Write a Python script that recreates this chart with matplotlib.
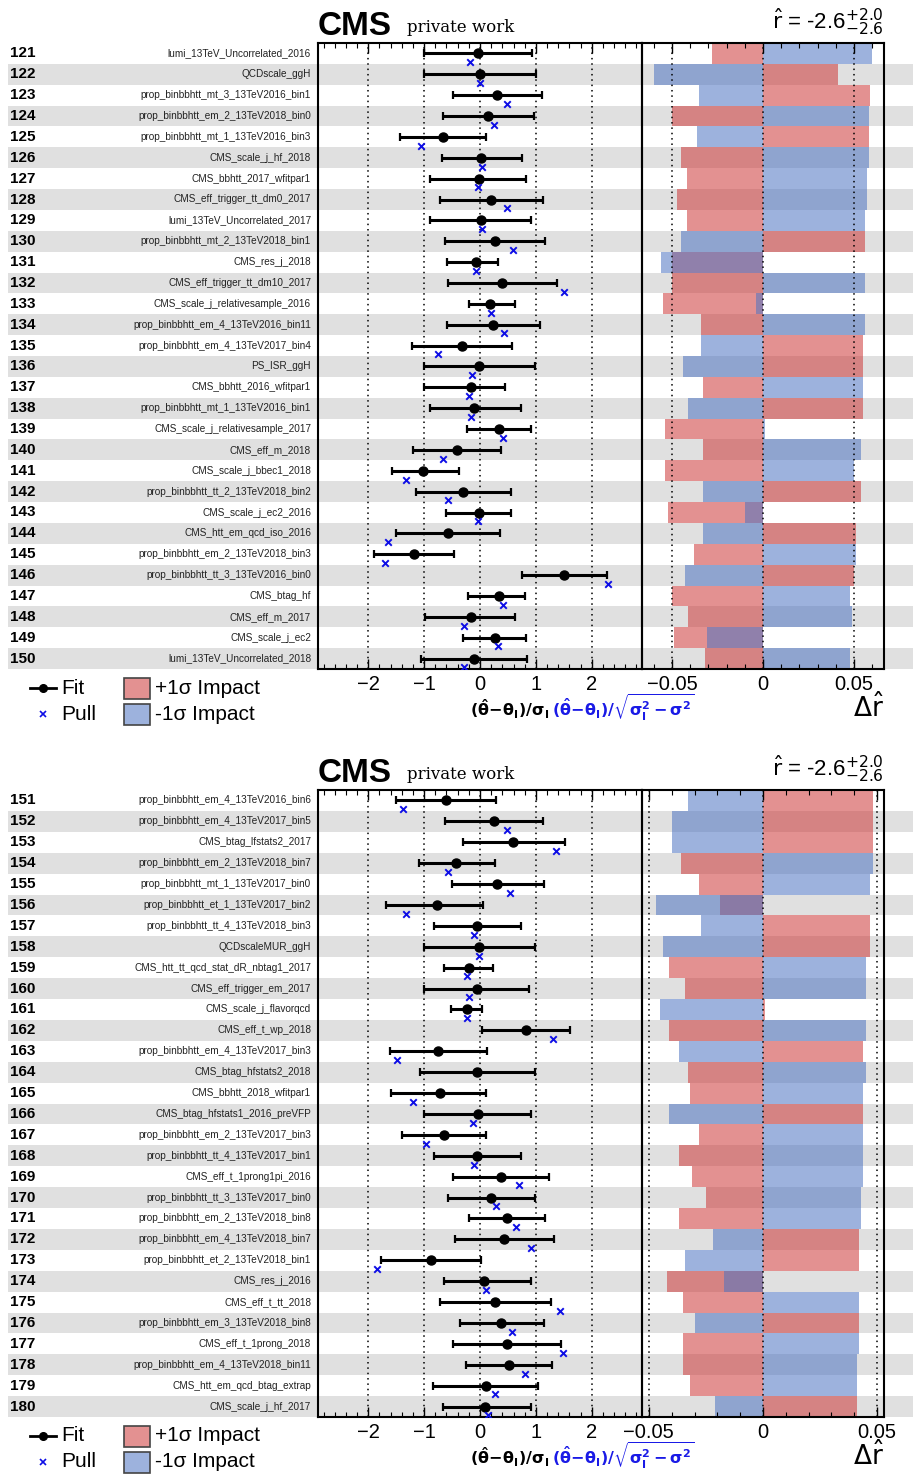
import numpy as np
import matplotlib
matplotlib.use("Agg")
import matplotlib.pyplot as plt
from matplotlib import font_manager
from matplotlib.patches import Rectangle
from matplotlib.lines import Line2D
from matplotlib.ticker import MultipleLocator, FixedLocator

plt.rcParams['font.family'] = ['Liberation Sans', 'DejaVu Sans']
plt.rcParams['mathtext.fontset'] = 'dejavusans'

try:
    font_manager.findfont("Liberation Sans Narrow", fallback_to_default=False)
    NARROW = "Liberation Sans Narrow"
except Exception:
    NARROW = "Liberation Sans"

# ---------------- data ----------------
labels_top = [
    "lumi_13TeV_Uncorrelated_2016", "QCDscale_ggH", "prop_binbbhtt_mt_3_13TeV2016_bin1",
    "prop_binbbhtt_em_2_13TeV2018_bin0", "prop_binbbhtt_mt_1_13TeV2016_bin3", "CMS_scale_j_hf_2018",
    "CMS_bbhtt_2017_wfitpar1", "CMS_eff_trigger_tt_dm0_2017", "lumi_13TeV_Uncorrelated_2017",
    "prop_binbbhtt_mt_2_13TeV2018_bin1", "CMS_res_j_2018", "CMS_eff_trigger_tt_dm10_2017",
    "CMS_scale_j_relativesample_2016", "prop_binbbhtt_em_4_13TeV2016_bin11",
    "prop_binbbhtt_em_4_13TeV2017_bin4", "PS_ISR_ggH", "CMS_bbhtt_2016_wfitpar1",
    "prop_binbbhtt_mt_1_13TeV2016_bin1", "CMS_scale_j_relativesample_2017", "CMS_eff_m_2018",
    "CMS_scale_j_bbec1_2018", "prop_binbbhtt_tt_2_13TeV2018_bin2", "CMS_scale_j_ec2_2016",
    "CMS_htt_em_qcd_iso_2016", "prop_binbbhtt_em_2_13TeV2018_bin3", "prop_binbbhtt_tt_3_13TeV2016_bin0",
    "CMS_btag_hf", "CMS_eff_m_2017", "CMS_scale_j_ec2", "lumi_13TeV_Uncorrelated_2018"]
fit_top = [-0.04, 0.00, 0.31, 0.15, -0.66, 0.01, -0.02, 0.20, 0.01, 0.27, -0.07, 0.39, 0.18, 0.24, -0.33,
           -0.02, -0.17, -0.10, 0.34, -0.42, -1.02, -0.30, -0.02, -0.58, -1.18, 1.51, 0.34, -0.17, 0.26, -0.10]
lo_top = [-1.01, -1.00, -0.48, -0.66, -1.43, -0.68, -0.89, -0.72, -0.89, -0.63, -0.59, -0.58, -0.20, -0.59, -1.22,
          -1.01, -1.00, -0.90, -0.24, -1.20, -1.57, -1.15, -0.60, -1.50, -1.90, 0.75, -0.21, -0.99, -0.31, -1.05]
hi_top = [0.93, 1.00, 1.11, 0.97, 0.11, 0.75, 0.82, 1.13, 0.92, 1.17, 0.32, 1.37, 0.62, 1.08, 0.57,
          0.99, 0.45, 0.73, 0.92, 0.37, -0.38, 0.56, 0.56, 0.36, -0.46, 2.28, 0.81, 0.62, 0.82, 0.85]
pull_top = [-0.18, 0.00, 0.49, 0.25, -1.05, 0.03, -0.04, 0.49, 0.03, 0.59, -0.08, 1.51, 0.19, 0.43, -0.75,
            -0.15, -0.20, -0.16, 0.42, -0.66, -1.32, -0.57, -0.03, -1.65, -1.70, 2.29, 0.41, -0.28, 0.33, -0.29]
imp_up_top = [-0.028, 0.041, 0.059, -0.050, 0.058, -0.045, -0.042, -0.047, -0.042, 0.056, -0.050, -0.050,
              -0.055, -0.034, 0.055, 0.055, -0.033, 0.055, -0.054, -0.033, -0.054, 0.054, -0.052, 0.051,
              -0.038, 0.050, -0.050, -0.041, -0.049, -0.032]
imp_dn_top = [0.060, -0.060, -0.035, 0.058, -0.036, 0.058, 0.057, 0.057, 0.056, -0.045, -0.056, 0.056,
              -0.004, 0.056, -0.034, -0.044, 0.055, -0.041, 0.001, 0.054, 0.050, -0.033, -0.010, -0.033,
              0.051, -0.043, 0.048, 0.049, -0.031, 0.048]

labels_bot = [
    "prop_binbbhtt_em_4_13TeV2016_bin6", "prop_binbbhtt_em_4_13TeV2017_bin5", "CMS_btag_lfstats2_2017",
    "prop_binbbhtt_em_2_13TeV2018_bin7", "prop_binbbhtt_mt_1_13TeV2017_bin0", "prop_binbbhtt_et_1_13TeV2017_bin2",
    "prop_binbbhtt_tt_4_13TeV2018_bin3", "QCDscaleMUR_ggH", "CMS_htt_tt_qcd_stat_dR_nbtag1_2017",
    "CMS_eff_trigger_em_2017", "CMS_scale_j_flavorqcd", "CMS_eff_t_wp_2018",
    "prop_binbbhtt_em_4_13TeV2017_bin3", "CMS_btag_hfstats2_2018", "CMS_bbhtt_2018_wfitpar1",
    "CMS_btag_hfstats1_2016_preVFP", "prop_binbbhtt_em_2_13TeV2017_bin3", "prop_binbbhtt_tt_4_13TeV2017_bin1",
    "CMS_eff_t_1prong1pi_2016", "prop_binbbhtt_tt_3_13TeV2017_bin0", "prop_binbbhtt_em_2_13TeV2018_bin8",
    "prop_binbbhtt_em_4_13TeV2018_bin7", "prop_binbbhtt_et_2_13TeV2018_bin1", "CMS_res_j_2016",
    "CMS_eff_t_tt_2018", "prop_binbbhtt_em_3_13TeV2018_bin8", "CMS_eff_t_1prong_2018",
    "prop_binbbhtt_em_4_13TeV2018_bin11", "CMS_htt_em_qcd_btag_extrap", "CMS_scale_j_hf_2017"]
fit_bot = [-0.61, 0.25, 0.59, -0.43, 0.31, -0.77, -0.06, -0.01, -0.20, -0.06, -0.23, 0.82, -0.75, -0.06, -0.71,
           -0.03, -0.64, -0.06, 0.37, 0.19, 0.48, 0.43, -0.87, 0.08, 0.27, 0.38, 0.48, 0.52, 0.10, 0.09]
lo_bot = [-1.50, -0.62, -0.31, -1.10, -0.51, -1.69, -0.83, -1.01, -0.64, -1.00, -0.52, 0.03, -1.61, -1.08, -1.59,
          -1.00, -1.39, -0.83, -0.48, -0.58, -0.20, -0.45, -1.77, -0.64, -0.72, -0.35, -0.48, -0.25, -0.85, -0.67]
hi_bot = [0.29, 1.13, 1.52, 0.26, 1.15, 0.06, 0.73, 0.99, 0.24, 0.87, 0.03, 1.61, 0.13, 0.99, 0.11,
          0.92, 0.10, 0.73, 1.24, 0.98, 1.17, 1.33, 0.01, 0.92, 1.27, 1.14, 1.45, 1.29, 1.04, 0.92]
pull_bot = [-1.37, 0.49, 1.36, -0.58, 0.53, -1.32, -0.10, -0.01, -0.23, -0.19, -0.24, 1.31, -1.48, np.nan, -1.20,
            -0.12, -0.97, -0.10, 0.70, 0.29, 0.64, 0.91, -1.84, 0.10, 1.43, 0.57, 1.48, 0.81, 0.27, 0.14]
imp_up_bot = [0.048, 0.048, 0.048, -0.036, -0.028, -0.019, 0.047, 0.047, -0.041, -0.034, 0.001, -0.041,
              0.044, -0.033, -0.032, 0.044, -0.028, -0.037, -0.031, -0.025, -0.037, 0.042, 0.042, -0.042,
              -0.035, 0.042, -0.035, -0.035, -0.032, 0.041]
imp_dn_bot = [-0.033, -0.040, -0.040, 0.048, 0.047, -0.047, -0.027, -0.044, 0.045, 0.045, -0.045, 0.045,
              -0.037, 0.045, 0.044, -0.041, 0.044, 0.044, 0.044, 0.043, 0.043, -0.022, -0.034, -0.017,
              0.042, -0.030, 0.042, 0.041, 0.041, -0.021]

pull_ticks = [-2, -1, 0, 1, 2]
pull_ticklabels = ["\u22122", "\u22121", "0", "1", "2"]
impact_ticks = [-0.05, 0, 0.05]
impact_ticklabels = ["\u22120.05", "0", "0.05"]
r_hat_text = r"$\hat{\mathrm{r}}$ = -2.6$^{+2.0}_{-2.6}$"

# ---------------- layout helpers ----------------
W, H = 913, 1477
fig = plt.figure(figsize=(W / 100, H / 100), dpi=100)


def box(x0, y0, x1, y1):
    return [x0 / W, 1 - y1 / H, (x1 - x0) / W, (y1 - y0) / H]


RED = (0.80, 0.22, 0.22)
BLUE = (0.30, 0.45, 0.76)
ALPHA = 0.55
PULLBLUE = (0.05, 0.05, 0.9)

panels = [
    dict(start=121, labels=labels_top, fit=fit_top, lo=lo_top, hi=hi_top, pull=pull_top,
         up=imp_up_top, dn=imp_dn_top, ytop=43, ybot=669, implim=0.0665),
    dict(start=151, labels=labels_bot, fit=fit_bot, lo=lo_bot, hi=hi_bot, pull=pull_bot,
         up=imp_up_bot, dn=imp_dn_bot, ytop=790, ybot=1417, implim=0.053),
]


def style_ticks(a, labels):
    a.tick_params(axis="x", which="both", direction="in", top=True, bottom=True, pad=4)
    a.tick_params(axis="x", which="major", length=7, width=1)
    a.tick_params(axis="x", which="minor", length=3.5, width=0.8)
    a.set_xticklabels(labels, fontsize=14.5, family=[NARROW, "DejaVu Sans"])
    for s in a.spines.values():
        s.set_linewidth(1.5)


for p in panels:
    n = len(p["labels"])
    y = np.arange(n)
    ytop, ybot = p["ytop"], p["ybot"]

    # background bands + labels
    bg = fig.add_axes(box(8, ytop, W, ybot))
    bg.set_xlim(8, W)
    bg.set_ylim(n - 0.5, -0.5)
    bg.axis("off")
    for i in range(n):
        if i % 2 == 1:
            bg.axhspan(i - 0.5, i + 0.5, color="#e0e0e0", lw=0, zorder=0)
        bg.text(10, i, str(p["start"] + i), fontsize=11, fontweight="bold", va="center", ha="left")
        bg.text(311, i, p["labels"][i], fontsize=7.2, va="center", ha="right", color="#222222",
                family=[NARROW, "DejaVu Sans"])

    # pull panel
    ax = fig.add_axes(box(318, ytop, 642, ybot))
    ax.set_facecolor("none")
    ax.set_xlim(-2.9, 2.9)
    ax.set_ylim(n - 0.5, -0.5)
    for v in pull_ticks:
        ax.axvline(v, color="black", ls=(0, (1, 2.5)), lw=1.1, zorder=1)
    fit = np.array(p["fit"])
    lo = np.array(p["lo"])
    hi = np.array(p["hi"])
    ax.errorbar(fit, y, xerr=[fit - lo, hi - fit], fmt="o", color="black", ms=6.5,
                elinewidth=2.2, capsize=3, capthick=1.6, zorder=3)
    ax.scatter(np.array(p["pull"]), y + 0.42, marker="x", color=PULLBLUE, s=22, lw=1.4, zorder=4)
    ax.set_yticks([])
    ax.xaxis.set_major_locator(FixedLocator(pull_ticks))
    ax.xaxis.set_minor_locator(MultipleLocator(0.2))
    style_ticks(ax, pull_ticklabels)

    # impact panel
    ai = fig.add_axes(box(642, ytop, 884, ybot))
    ai.set_facecolor("none")
    ai.set_xlim(-p["implim"], p["implim"])
    ai.set_ylim(n - 0.5, -0.5)
    ai.barh(y, p["up"], height=1.0, color=RED, alpha=ALPHA, lw=0, zorder=1)
    ai.barh(y, p["dn"], height=1.0, color=BLUE, alpha=ALPHA, lw=0, zorder=1)
    for v in impact_ticks:
        ai.axvline(v, color="black", ls=(0, (1, 2.5)), lw=1.1, zorder=2)
    ai.set_yticks([])
    ai.xaxis.set_major_locator(FixedLocator(impact_ticks))
    ai.xaxis.set_minor_locator(MultipleLocator(0.01))
    style_ticks(ai, impact_ticklabels)

    # titles
    fig.text(318 / W, 1 - (ytop - 8) / H, "CMS", fontsize=24, fontweight="bold", ha="left", va="baseline")
    fig.text(407 / W, 1 - (ytop - 11) / H, "private work", fontsize=12, family="DejaVu Serif",
             ha="left", va="baseline")
    fig.text(884 / W, 1 - (ytop - 14) / H, r_hat_text, fontsize=16, ha="right", va="baseline")

    # x labels
    fig.text(549 / W, 1 - (ybot + 47) / H, r"$\mathbf{(\hat{\theta}\!-\!\theta_{I})/\sigma_{I}}$",
             fontsize=11.5, ha="right", va="baseline", color="black")
    fig.text(552 / W, 1 - (ybot + 47) / H,
             r"$\mathbf{(\hat{\theta}\!-\!\theta_{I})/\sqrt{\sigma_{I}^{2}-\sigma^{2}}}$",
             fontsize=11.5, ha="left", va="baseline", color=(0.1, 0.1, 0.9))
    fig.text(884 / W, 1 - (ybot + 48) / H, r"$\Delta\hat{\mathrm{r}}$", fontsize=19, ha="right",
             va="baseline")

    # legend (pixel overlay)
    lg = fig.add_axes(box(0, ybot + 5, 300, ybot + 65))
    lg.set_xlim(0, 300)
    lg.set_ylim(ybot + 65, ybot + 5)
    lg.axis("off")
    yf = ybot + 19
    yp = ybot + 45
    lg.add_line(Line2D([30, 56], [yf, yf], color="black", lw=2))
    lg.plot([43], [yf], "o", color="black", ms=5.5)
    lg.text(61, yf, "Fit", fontsize=15, va="center", ha="left")
    lg.plot([43], [yp], "x", color=PULLBLUE, ms=5, mew=1.2)
    lg.text(61, yp, "Pull", fontsize=15, va="center", ha="left")
    lg.add_patch(Rectangle((124, yf - 10), 26, 21, facecolor=RED, alpha=ALPHA, edgecolor="none"))
    lg.add_patch(Rectangle((124, yf - 10), 26, 21, facecolor="none", edgecolor="#444444", lw=1.2))
    lg.text(155, yf, "+1\u03c3 Impact", fontsize=15, va="center", ha="left")
    lg.add_patch(Rectangle((124, yp - 10), 26, 21, facecolor=BLUE, alpha=ALPHA, edgecolor="none"))
    lg.add_patch(Rectangle((124, yp - 10), 26, 21, facecolor="none", edgecolor="#444444", lw=1.2))
    lg.text(155, yp, "-1\u03c3 Impact", fontsize=15, va="center", ha="left")

fig.savefig("out.png", dpi=100)
